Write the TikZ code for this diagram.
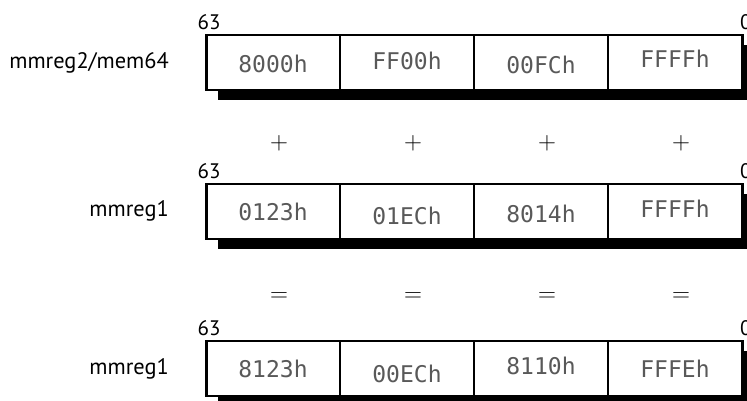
\documentclass[tikz,border=0pt]{standalone}
\usepackage{fontspec}
\setmainfont{PT Sans}
\newfontfamily\hexfont{DejaVu Sans Mono}
\usetikzlibrary{shadows}

\begin{document}
\begin{tikzpicture}[x=1pt,y=-1pt,
    reg/.style={draw,line width=2pt,fill=white,inner sep=0pt,
      minimum width=536pt,minimum height=55pt,
      drop shadow={shadow xshift=11pt,shadow yshift=-10pt,fill=black,opacity=1}},
    cell/.style={draw,line width=2pt,inner sep=0pt,
      minimum width=134pt,minimum height=55pt},
    hexval/.style={font=\hexfont\fontsize{23}{23}\selectfont,text=black!65,inner sep=0pt},
    bitno/.style={font=\fontsize{21}{21}\selectfont,inner sep=0pt},
    regname/.style={font=\fontsize{22.4}{22.4}\selectfont,inner sep=0pt,anchor=east},
    op/.style={font=\fontsize{26}{26}\selectfont,inner sep=0pt}]
  \useasboundingbox (0,0) rectangle (747,400);
  \clip (0,0) rectangle (747,400);

  % the three registers
  \node[reg] (A) at (475,62.5) {};
  \node[reg] (B) at (475,211) {};
  \node[reg] (C) at (475,368.5) {};

  % words of each register, value/vertical offset
  \foreach \reg/\vals in {A/{8000h/1.5,FF00h/-1.5,00FCh/2.5,FFFFh/-3.5},
                          B/{0123h/0.5,01ECh/5,8014h/3,FFFFh/-2},
                          C/{8123h/0.5,00ECh/5.5,8110h/-2.5,FFFEh/0.5}} {
    \foreach \v/\dy [count=\i] in \vals {
      \node[cell] (\reg\i) at ([xshift={(134*\i-67)*1pt}]\reg.west) {};
      \node[hexval] (\reg\i v) at ([yshift={-1pt*(\dy)}]\reg\i.center) {\v};
    }
    \node[bitno,anchor=south] (\reg63) at ([xshift=3pt,yshift=4pt]\reg.north west) {63};
    \node[bitno,anchor=south west] (\reg0) at ([xshift=-4pt,yshift=4pt]\reg.north east) {0};
  }

  \node[regname] (An) at ([xshift=-37pt]A.west) {mmreg2/mem64};
  \node[regname] (Bn) at ([xshift=-37pt]B.west) {mmreg1};
  \node[regname] (Cn) at ([xshift=-37pt]C.west) {mmreg1};

  % operators between the rows
  \foreach \i in {1,...,4} {
    \path (A\i.center) ++(6,80.5) node[op] (plus\i) {$+$};
    \path (B\i.center) ++(6,86) node[op] (eq\i) {$=$};
  }
\end{tikzpicture}
\end{document}
